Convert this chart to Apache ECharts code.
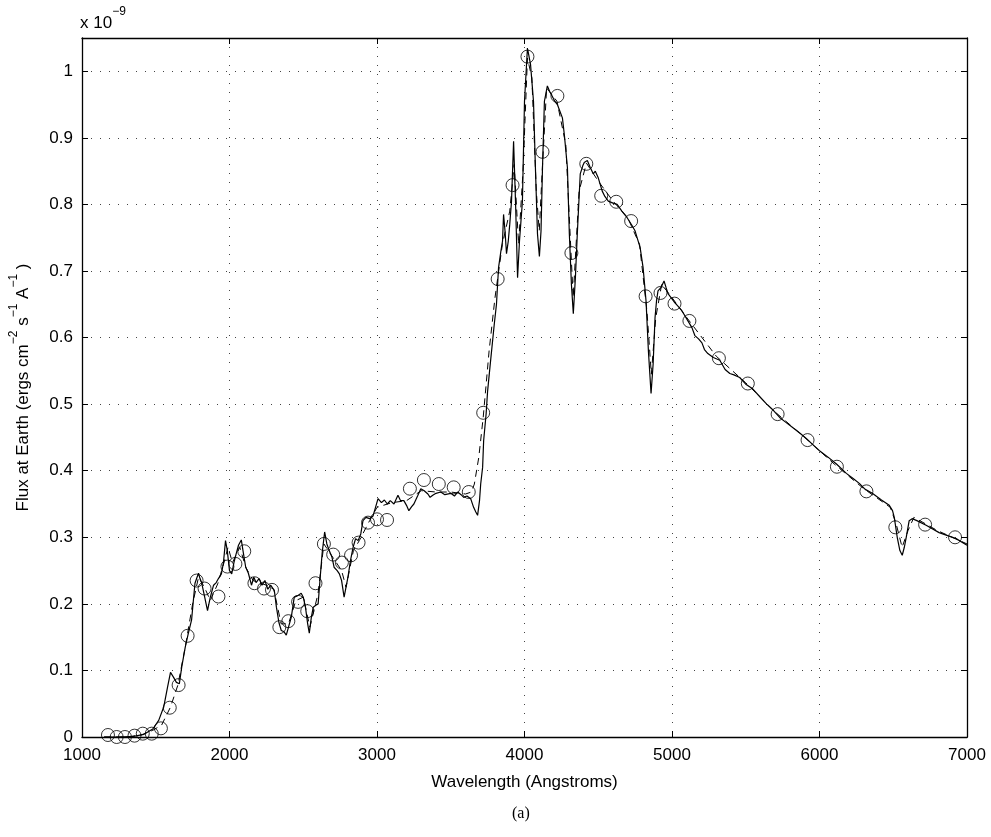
<!DOCTYPE html>
<html>
<head>
<meta charset="utf-8">
<script src="https://cdn.jsdelivr.net/npm/echarts@6/dist/echarts.min.js"></script>
<style>
html,body{margin:0;padding:0;background:#fff;}
#chart{width:991px;height:837px;}
</style>
</head>
<body>
<div id="chart"></div>
<script>
// Observed spectrum (solid line), wavelength in Angstroms, flux in units of 1e-9
var specWave = [1150,1250,1350,1420,1480,1520,1554,1580,1600,1620,1640,1660,1676,1700,1720,1743,1755,1766,1780,1790,1800,1811,1830,1851,1870,1892,1910,1925,1945,1959,1973,1985,2000,2015,2030,2045,2061,2080,2095,2110,2128,2149,2165,2180,2200,2220,2240,2260,2280,2304,2318,2335,2351,2370,2385,2400,2419,2439,2460,2486,2500,2515,2530,2541,2555,2568,2585,2601,2615,2628,2645,2660,2676,2695,2709,2730,2745,2760,2777,2790,2803,2820,2838,2855,2872,2890,2905,2925,2950,2973,2990,3007,3030,3050,3070,3090,3115,3142,3160,3182,3200,3216,3235,3250,3275,3297,3320,3345,3360,3378,3400,3432,3460,3500,3525,3547,3570,3588,3610,3635,3655,3670,3682,3695,3703,3716,3723,3740,3750,3770,3795,3810,3824,3840,3851,3858,3868,3878,3890,3900,3912,3926,3939,3953,3966,3986,4000,4020,4041,4061,4074,4088,4101,4112,4122,4135,4155,4170,4189,4205,4223,4240,4257,4270,4291,4304,4318,4331,4345,4358,4378,4395,4405,4426,4445,4466,4480,4500,4527,4545,4568,4600,4628,4660,4696,4730,4750,4784,4804,4824,4840,4858,4872,4885,4895,4905,4925,4946,4960,4973,5000,5020,5045,5068,5108,5135,5155,5180,5203,5220,5243,5280,5324,5360,5392,5420,5459,5500,5547,5600,5642,5690,5730,5770,5818,5870,5912,5960,6000,6060,6115,6182,6230,6270,6310,6358,6420,6473,6495,6507,6527,6545,6561,6575,6588,6608,6628,6660,6723,6811,6926,7000];
var specFlux = [0.000,0.000,0.001,0.004,0.012,0.025,0.045,0.075,0.097,0.090,0.082,0.080,0.105,0.135,0.155,0.176,0.205,0.231,0.240,0.246,0.238,0.232,0.212,0.190,0.210,0.228,0.232,0.238,0.245,0.262,0.295,0.280,0.250,0.245,0.262,0.275,0.288,0.296,0.275,0.255,0.246,0.228,0.240,0.232,0.238,0.228,0.235,0.222,0.228,0.220,0.195,0.172,0.160,0.158,0.153,0.165,0.180,0.210,0.212,0.216,0.210,0.195,0.170,0.156,0.180,0.195,0.198,0.200,0.240,0.276,0.308,0.290,0.280,0.270,0.255,0.250,0.245,0.235,0.210,0.225,0.240,0.265,0.285,0.298,0.295,0.305,0.325,0.330,0.328,0.332,0.345,0.358,0.352,0.356,0.350,0.355,0.350,0.363,0.355,0.355,0.348,0.340,0.346,0.350,0.362,0.373,0.370,0.365,0.360,0.363,0.366,0.368,0.364,0.366,0.362,0.368,0.364,0.360,0.362,0.358,0.345,0.338,0.333,0.355,0.380,0.405,0.445,0.486,0.520,0.565,0.620,0.650,0.705,0.730,0.745,0.785,0.760,0.726,0.745,0.770,0.805,0.895,0.805,0.690,0.745,0.805,0.955,1.035,1.010,0.955,0.855,0.756,0.722,0.760,0.855,0.955,0.978,0.970,0.962,0.955,0.950,0.940,0.930,0.905,0.855,0.756,0.680,0.636,0.690,0.756,0.846,0.858,0.863,0.866,0.856,0.846,0.850,0.840,0.820,0.812,0.805,0.802,0.800,0.790,0.780,0.768,0.760,0.735,0.705,0.655,0.580,0.516,0.560,0.630,0.655,0.670,0.675,0.685,0.675,0.666,0.658,0.652,0.646,0.640,0.625,0.615,0.603,0.598,0.592,0.582,0.576,0.570,0.566,0.552,0.546,0.544,0.540,0.530,0.523,0.510,0.500,0.490,0.480,0.473,0.465,0.456,0.448,0.438,0.430,0.420,0.410,0.396,0.388,0.381,0.372,0.366,0.356,0.348,0.340,0.330,0.300,0.280,0.273,0.285,0.300,0.325,0.328,0.325,0.318,0.307,0.298,0.288];

// Model spectrum (dashed line)
var modelWave = [1150,1300,1400,1480,1540,1600,1650,1700,1750,1790,1830,1870,1920,1960,1990,2020,2070,2110,2160,2250,2300,2350,2400,2450,2500,2545,2600,2640,2700,2760,2790,2840,2880,2950,3000,3100,3200,3300,3400,3500,3600,3640,3660,3690,3720,3760,3800,3850,3900,3930,3960,3990,4020,4050,4080,4100,4120,4150,4220,4280,4330,4370,4420,4500,4600,4700,4780,4830,4860,4890,4930,5000,5100,5300,5500,5700,5900,6100,6300,6480,6520,6560,6600,6640,6800,7000];
var modelFlux = [0.000,0.000,0.003,0.010,0.018,0.045,0.078,0.135,0.200,0.240,0.225,0.205,0.230,0.260,0.285,0.262,0.285,0.255,0.235,0.228,0.222,0.170,0.170,0.205,0.210,0.165,0.215,0.290,0.270,0.250,0.225,0.280,0.295,0.325,0.345,0.352,0.355,0.370,0.368,0.368,0.365,0.368,0.380,0.420,0.480,0.580,0.660,0.740,0.790,0.860,0.740,0.850,1.020,0.990,0.820,0.760,0.850,0.975,0.955,0.890,0.660,0.820,0.862,0.835,0.805,0.780,0.740,0.640,0.545,0.630,0.680,0.660,0.630,0.572,0.532,0.488,0.450,0.410,0.373,0.345,0.320,0.285,0.310,0.330,0.310,0.290];

// Photometry points (circles)
var photWave = [1176,1235,1291,1356,1412,1473,1535,1595,1655,1716,1777,1831,1925,1986,2040,2100,2169,2234,2288,2338,2399,2465,2527,2583,2640,2703,2762,2824,2875,2939,3000,3068,3223,3318,3419,3520,3622,3720,3818,3919,4020,4122,4223,4318,4419,4520,4622,4723,4821,4922,5017,5118,5318,5514,5716,5919,6118,6318,6514,6716,6919];
var photFlux = [0.003,0.000,0.000,0.002,0.005,0.005,0.013,0.044,0.078,0.152,0.235,0.223,0.211,0.256,0.260,0.279,0.231,0.223,0.221,0.165,0.174,0.203,0.189,0.231,0.290,0.274,0.262,0.273,0.292,0.322,0.327,0.326,0.373,0.386,0.380,0.375,0.368,0.487,0.688,0.829,1.022,0.879,0.963,0.727,0.861,0.813,0.804,0.775,0.662,0.667,0.651,0.625,0.569,0.531,0.485,0.446,0.406,0.369,0.315,0.319,0.300];

var xTicks = [1000,2000,3000,4000,5000,6000,7000];
var yTicks = [0,0.1,0.2,0.3,0.4,0.5,0.6,0.7,0.8,0.9,1];

function zip(a,b){var r=[];for(var i=0;i<a.length;i++)r.push([a[i],b[i]]);return r;}

var FONT = '"Liberation Sans", Arial, Helvetica, sans-serif';
var chart = echarts.init(document.getElementById('chart'), null, {renderer:'canvas'});

var gridLine = {show:true, lineStyle:{color:'#444', type:[1,8], width:1}};
var axisLineS = {show:true, onZero:false, lineStyle:{color:'#000', width:1.3}};
var tickS = {show:true, inside:true, length:6, lineStyle:{color:'#000', width:1}};

function yFmt(v){
  for (var i=0;i<yTicks.length;i++){
    if (Math.abs(v - yTicks[i]) < 1e-6) return String(yTicks[i]);
  }
  return '';
}
function xFmt(v){
  for (var i=0;i<xTicks.length;i++){
    if (Math.abs(v - xTicks[i]) < 1e-6) return String(xTicks[i]);
  }
  return '';
}

var option = {
  backgroundColor:'#fff',
  animation:false,
  grid:{left:80, right:24, top:38, bottom:100, containLabel:false},
  xAxis:[{
    type:'value', min:1000, max:7000, interval:1000, position:'bottom',
    axisLine:axisLineS, axisTick:tickS, splitLine:gridLine,
    axisLabel:{color:'#000', fontSize:17, fontFamily:FONT, margin:10, formatter:xFmt},
    name:'Wavelength (Angstroms)', nameLocation:'middle', nameGap:37,
    nameTextStyle:{color:'#000', fontSize:17, fontFamily:FONT}
  },{
    type:'value', min:1000, max:7000, interval:1000, position:'top',
    axisLine:axisLineS, axisTick:tickS, splitLine:{show:false},
    axisLabel:{show:false}
  }],
  yAxis:[{
    type:'value', min:0, max:1.05, interval:0.1, position:'left',
    axisLine:axisLineS, axisTick:tickS, splitLine:gridLine,
    axisLabel:{color:'#000', fontSize:17, fontFamily:FONT, margin:9, formatter:yFmt, showMaxLabel:false},
    name:'{n|Flux at Earth (ergs cm}{s|−2}{n| s}{s|−1}{n| A}{s|−1}{n| )}',
    nameLocation:'middle', nameGap:50, nameRotate:90,
    nameTextStyle:{
      color:'#000', fontFamily:FONT, fontSize:17,
      rich:{
        n:{fontSize:17, fontFamily:FONT, color:'#000', lineHeight:24, verticalAlign:'bottom'},
        s:{fontSize:12, fontFamily:FONT, color:'#000', lineHeight:24, verticalAlign:'top'}
      }
    }
  },{
    type:'value', min:0, max:1.05, interval:0.1, position:'right',
    axisLine:axisLineS, axisTick:tickS, splitLine:{show:false},
    axisLabel:{show:false}
  }],
  graphic:[{
    type:'text', left:80, top:6,
    style:{
      text:'{n|x 10}{s|−9}',
      rich:{
        n:{fontSize:17, fontFamily:FONT, fill:'#000', lineHeight:26, verticalAlign:'bottom'},
        s:{fontSize:12, fontFamily:FONT, fill:'#000', lineHeight:26, verticalAlign:'top'}
      }
    }
  },{
    type:'text', left:512, top:806,
    style:{text:'(a)', fontSize:16, fontFamily:'"Liberation Serif", "Times New Roman", serif', fill:'#000'}
  }],
  series:[{
    name:'model', type:'line', data:zip(modelWave, modelFlux), showSymbol:false, symbol:'none',
    lineStyle:{color:'#000', width:1, type:[7,5]}, z:2, clip:true
  },{
    name:'spectrum', type:'line', data:zip(specWave, specFlux), showSymbol:false, symbol:'none',
    lineStyle:{color:'#000', width:1.2}, z:3, clip:true
  },{
    name:'photometry', type:'scatter', data:zip(photWave, photFlux), symbol:'circle', symbolSize:13,
    itemStyle:{color:'rgba(0,0,0,0)', borderColor:'#000', borderWidth:1}, z:4
  }]
};
chart.setOption(option);
</script>
</body>
</html>
